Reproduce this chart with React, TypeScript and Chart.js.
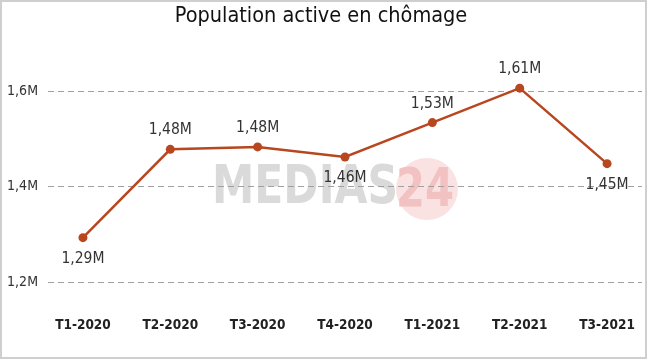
import React, { useEffect, useRef } from "react";
import { Chart, registerables } from "chart.js";

Chart.register(...registerables);

const TITLE = "Population active en chômage";
const CATEGORIES = ["T1-2020", "T2-2020", "T3-2020", "T4-2020", "T1-2021", "T2-2021", "T3-2021"];
const VALUES = [1.293, 1.478, 1.483, 1.462, 1.534, 1.606, 1.448];
const Y_TICKS = [1.2, 1.4, 1.6];

const FONT = "'DejaVu Sans Condensed', 'DejaVu Sans', sans-serif";
const LINE_COLOR = "#B8461F";

const fmtTick = (v: number) => v.toFixed(1).replace(".", ",") + "M";
const fmtLabel = (v: number) => v.toFixed(2).replace(".", ",") + "M";

const watermarkPlugin = {
  id: "watermark",
  beforeDraw(chart: any) {
    const ctx = chart.ctx;
    ctx.save();
    ctx.fillStyle = "#fbe2e2";
    ctx.beginPath();
    ctx.arc(427, 189, 31, 0, Math.PI * 2);
    ctx.fill();
    ctx.font = `bold 54px ${FONT}`;
    ctx.textBaseline = "alphabetic";
    ctx.textAlign = "left";
    const word = "MEDIAS";
    const w = ctx.measureText(word).width;
    ctx.save();
    ctx.translate(212, 203);
    ctx.scale(186 / w, 1);
    ctx.fillStyle = "#dadada";
    ctx.fillText(word, 0, 0);
    ctx.restore();
    const n = "24";
    const w2 = ctx.measureText(n).width;
    ctx.save();
    ctx.translate(396, 206);
    ctx.scale(58 / w2, 1);
    ctx.fillStyle = "#f2c2c2";
    ctx.fillText(n, 0, 0);
    ctx.restore();
    ctx.restore();
  },
  afterDraw(chart: any) {
    const ctx = chart.ctx;
    ctx.save();
    ctx.strokeStyle = "#cfcfcf";
    ctx.lineWidth = 2;
    ctx.strokeRect(1, 1, 645, 357);
    ctx.restore();
  },
};

const labelPlugin = {
  id: "pointLabels",
  afterDatasetsDraw(chart: any) {
    const ctx = chart.ctx;
    const meta = chart.getDatasetMeta(0);
    const data = chart.data.datasets[0].data as { x: number; y: number }[];
    ctx.save();
    ctx.font = `15.5px ${FONT}`;
    ctx.fillStyle = "#333333";
    ctx.textAlign = "center";
    ctx.textBaseline = "middle";
    meta.data.forEach((pt: any, i: number) => {
      const v = data[i].y;
      const prev = i > 0 ? data[i - 1].y : Infinity;
      const next = i < data.length - 1 ? data[i + 1].y : Infinity;
      const below = v < prev && v < next;
      const y = below ? pt.y + 21 : pt.y - 19;
      ctx.fillText(fmtLabel(v), pt.x, y);
    });
    ctx.restore();
  },
};

export default function App() {
  const ref = useRef<HTMLCanvasElement | null>(null);

  useEffect(() => {
    if (!ref.current) return;
    const chart = new Chart(ref.current, {
      type: "line",
      data: {
        datasets: [
          {
            data: VALUES.map((v, i) => ({ x: i, y: v })),
            borderColor: LINE_COLOR,
            backgroundColor: LINE_COLOR,
            borderWidth: 2.5,
            pointRadius: 4.5,
            pointBackgroundColor: LINE_COLOR,
            pointBorderWidth: 0,
            tension: 0,
          },
        ],
      },
      options: {
        responsive: false,
        animation: false,
        layout: { padding: { left: 0, right: 8, top: 0, bottom: 0 } },
        plugins: {
          legend: { display: false },
          tooltip: { enabled: false },
          title: {
            display: true,
            text: TITLE,
            color: "#111111",
            font: { family: FONT, size: 21.5, weight: "normal" },
            padding: { top: 4, bottom: 30.2 },
          },
        },
        scales: {
          x: {
            type: "linear",
            min: -0.4,
            max: 6.4,
            grid: { display: false, drawTicks: false },
            border: { display: false },
            afterFit: (s: any) => {
              s.height = 56;
            },
            afterBuildTicks: (s: any) => {
              s.ticks = CATEGORIES.map((_, i) => ({ value: i }));
            },
            ticks: {
              autoSkip: false,
              maxRotation: 0,
              padding: 12,
              color: "#222222",
              font: { family: FONT, size: 13.5, weight: "bold" },
              callback: (v: any) => CATEGORIES[Math.round(Number(v))] ?? "",
            },
          },
          y: {
            min: 1.152,
            max: 1.665,
            grid: { color: "#a0a0a0", lineWidth: 1, drawTicks: false },
            border: { display: false, dash: [6, 4] },
            afterFit: (s: any) => {
              s.width = 48;
            },
            afterBuildTicks: (s: any) => {
              s.ticks = Y_TICKS.map((v) => ({ value: v }));
            },
            ticks: {
              padding: 10,
              color: "#333333",
              font: { family: FONT, size: 14 },
              callback: (v: any) => fmtTick(Number(v)),
            },
          },
        },
      },
      plugins: [watermarkPlugin, labelPlugin],
    } as any);
    return () => chart.destroy();
  }, []);

  return (
    <div style={{ position: "absolute", left: 0, top: 0, width: 650, height: 361, background: "#fff" }}>
      <canvas ref={ref} width={650} height={361} />
    </div>
  );
}
